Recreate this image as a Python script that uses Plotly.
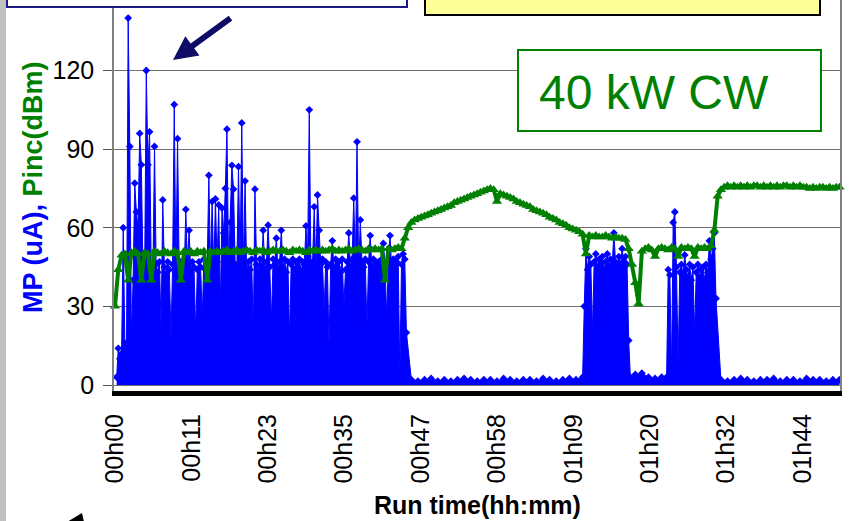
import plotly.graph_objects as go

# ---------------- data ----------------
tick_labels = ["00h00", "00h11", "00h23", "00h35", "00h47",
               "00h58", "01h09", "01h20", "01h32", "01h44"]
tick_minutes = [0, 11.6, 23.2, 34.8, 46.4, 58.0, 69.6, 81.2, 92.8, 104.4]
y_ticks = [0, 30, 60, 90, 120]

# Pinc (dBm), one sample every 0.5 min from 00h00
pinc_start, pinc_step = 0.0, 0.5
pinc_dbm = [
    30, 44, 49.5, 50, 40, 50.5, 51, 50, 40, 50.5,
    50, 40, 51, 50.5, 50, 51, 50.5, 50, 51, 50.5,
    40, 51, 50.5, 51, 50, 51, 50.5, 51, 40, 51,
    50.5, 51, 50.5, 51, 51.5, 50.5, 51, 51.5, 50.5, 51,
    51.5, 51, 50.5, 51.5, 51, 51.5, 50.5, 51, 51.5, 51,
    51, 51.5, 51, 50.5, 51.5, 51, 51.5, 51, 50.5, 51.5,
    51, 51.5, 51, 51.5, 51, 51.5, 52, 51, 51.5, 51,
    51.5, 52, 51, 51.5, 52, 51.5, 51, 52, 51.5, 52,
    51.5, 52, 40, 52, 51.5, 52, 52.5, 52, 56, 60,
    62, 63, 63.5, 64, 64.5, 65, 65.5, 66, 66.5, 67,
    67.5, 68, 68.5, 69.5, 70, 70.5, 71, 71.5, 72, 72.5,
    73, 73.5, 74, 74.5, 75, 74.5, 70, 73, 72.5, 72,
    71.5, 71, 70, 69.5, 69, 68.5, 68, 67, 66.5, 66,
    65.5, 65, 64, 63.5, 63, 62, 61.5, 61, 60, 59.5,
    59, 58.5, 57.5, 50, 57, 56.5, 57, 56.5, 56.5, 57,
    56.5, 56, 56.5, 56, 56, 55.5, 52, 46, 39, 31,
    51, 52, 52.5, 51.5, 49, 52, 52.5, 52, 51.5, 52.5,
    52, 49, 52.5, 52, 52.5, 52, 49, 52.5, 52, 52.5,
    52, 53, 59, 72, 74.5, 75.5, 76, 75.5, 76, 75.5,
    76, 75.5, 76, 75.5, 76, 76, 75.5, 76, 75.5, 76,
    75.5, 76, 75.5, 76, 76, 75.5, 76, 75.5, 76, 75.5,
    75.5, 75, 75.5, 75, 75.5, 75.5, 75, 75.5, 75, 75.5,
    75.5,
]

# MP (uA): logged in bursts (fast sampling) and quiet periods (slow sampling)
mp_burst1_start, mp_burst1_step = 0.25, 0.25
mp_burst1 = [
    3, 14, 10, 12, 60, 16, 13, 140, 91, 18,
    40, 77, 66, 60, 96, 84, 44, 42, 120, 84,
    96.6, 45, 40, 91, 46, 43, 47, 22, 70.6, 45,
    42, 47, 44, 18, 46, 107, 45, 94, 43, 47,
    44, 41, 67, 46, 59, 43, 47, 45, 20, 44,
    47, 45, 26, 48, 44, 46, 80, 45, 70, 43,
    71, 47, 68.7, 30, 67.5, 58, 75, 97.6, 45, 62,
    83.8, 74.7, 46, 44, 83.3, 47, 100, 45, 77.8, 43,
    47, 44, 48, 20, 74.7, 46, 43, 48, 45, 59,
    44, 47, 61, 45, 24, 48, 46, 56, 44, 47,
    59, 45, 48, 43, 47, 18, 46, 48, 44, 47,
    45, 48, 43, 47, 46, 60.7, 49, 105, 45, 47,
    68, 44, 72.5, 59, 46, 48, 28, 47, 45, 15,
    46, 55, 44, 48, 45, 47, 43, 48, 30, 44,
    47, 58, 45, 48, 71.3, 46, 92.8, 44, 63, 47,
    45, 48, 22, 47, 57, 45, 48, 46, 44, 47,
    45, 48, 54, 46, 26, 47, 57, 45, 48, 46,
    47, 49, 3, 46, 50, 48, 20,
]
mp_quiet1_start, mp_quiet1_step = 45.0, 1.0
mp_quiet1 = [2, 1.5, 2, 2.5, 1.5, 2, 1.5, 2, 2.5, 2, 1.5, 2, 2,
             1.5, 2.5, 2, 1.5, 2, 2, 1.5, 2.5, 2, 1.5, 2, 2.5, 2]
mp_burst2_start, mp_burst2_step = 71.0, 0.25
mp_burst2 = [3, 30, 52, 44, 49, 46, 20, 47, 50, 45, 48, 46, 49, 44, 47,
             50, 45, 48, 46, 58, 47, 45, 49, 46, 52, 47, 49, 46, 17, 3]
mp_quiet2_start, mp_quiet2_step = 79.0, 1.0
mp_quiet2 = [4, 4.5, 3, 2.5, 3]
mp_burst3_start, mp_burst3_step = 83.75, 0.25
mp_burst3 = [3, 44, 42, 5, 62, 66, 45, 8, 43, 46, 42, 49.6, 44, 41, 46, 40,
             45, 20, 43, 46, 41, 44, 45, 40, 46, 43, 55, 48, 52, 58, 33]
mp_quiet3_start, mp_quiet3_step = 92.0, 1.0
mp_quiet3 = [2, 1.5, 2, 2.5, 2, 1.5, 2, 2, 2.5, 1.5, 2, 2, 1.5, 2.5,
             2, 2, 1.5, 2, 2]

# ---------------- build series ----------------
def times(start, step, vals):
    return [start + step * i for i in range(len(vals))]

mp_segments = [
    (mp_burst1_start, mp_burst1_step, mp_burst1),
    (mp_quiet1_start, mp_quiet1_step, mp_quiet1),
    (mp_burst2_start, mp_burst2_step, mp_burst2),
    (mp_quiet2_start, mp_quiet2_step, mp_quiet2),
    (mp_burst3_start, mp_burst3_step, mp_burst3),
    (mp_quiet3_start, mp_quiet3_step, mp_quiet3),
]
mp_t, mp_v = [], []
for s, d, v in mp_segments:
    mp_t += times(s, d, v)
    mp_v += v

pinc_t = times(pinc_start, pinc_step, pinc_dbm)

BLUE = "#0000ff"
GREEN = "#008000"
FONT = "Liberation Sans, Arial, sans-serif"

fig = go.Figure()
fig.add_trace(go.Scatter(
    x=mp_t, y=mp_v, mode="lines+markers", name="MP (uA)",
    line=dict(color=BLUE, width=1),
    marker=dict(symbol="diamond", size=6, color=BLUE),
    fill="tozeroy", fillcolor=BLUE, showlegend=False,
))
fig.add_trace(go.Scatter(
    x=pinc_t, y=pinc_dbm, mode="lines+markers", name="Pinc(dBm)",
    line=dict(color=GREEN, width=4),
    marker=dict(symbol="triangle-up", size=9, color=GREEN),
    showlegend=False, cliponaxis=False,
))

W, H = 850, 521
L, R, T, B = 114, 10, 0, 130
pw, ph = W - L - R, H - T - B

def px(x):
    return (x - L) / pw

def py(y):
    return (H - B - y) / ph

shapes = [
    dict(type="rect", xref="paper", yref="paper", x0=px(0), x1=px(6),
         y0=py(H), y1=py(0), fillcolor="#c0c0c0", line=dict(width=0), layer="above"),
    dict(type="rect", xref="paper", yref="paper", x0=px(7), x1=px(407),
         y0=py(7), y1=py(-20), fillcolor="white", line=dict(color="#1a1a80", width=2), layer="above"),
    dict(type="rect", xref="paper", yref="paper", x0=px(425), x1=px(820),
         y0=py(15), y1=py(-20), fillcolor="#ffff99", line=dict(color="black", width=2), layer="above"),
    dict(type="rect", xref="paper", yref="paper", x0=px(518), x1=px(821),
         y0=py(131), y1=py(50), fillcolor="white", line=dict(color=GREEN, width=2), layer="above"),
    # black arrow head cut by the bottom edge
    dict(type="path", xref="paper", yref="paper",
         path="M {:.4f},{:.4f} L {:.4f},{:.4f} L {:.4f},{:.4f} Z".format(
             px(82), py(513), px(67), py(522), px(84), py(522)),
         fillcolor="black", line=dict(width=0), layer="above"),
]

annotations = [
    dict(xref="paper", yref="paper", x=px(654), y=py(92), text="40 kW CW",
         showarrow=False, font=dict(family=FONT, size=48, color=GREEN),
         xanchor="center", yanchor="middle"),
    dict(xref="paper", yref="paper", x=px(33), y=py(187), textangle=-90,
         text="<b><span style='color:#0000ff'>MP (uA), </span>"
              "<span style='color:#008000'>Pinc(dBm)</span></b>",
         showarrow=False, font=dict(family=FONT, size=27),
         xanchor="center", yanchor="middle"),
    dict(xref="paper", yref="paper", x=0.5, y=py(505),
         text="<b>Run time(hh:mm)</b>", showarrow=False,
         font=dict(family=FONT, size=25, color="black"),
         xanchor="center", yanchor="middle"),
    dict(xref="paper", yref="paper", x=px(173), y=py(60), text="",
         showarrow=True, ax=59, ay=-43, arrowhead=2, arrowsize=0.8,
         arrowwidth=6, arrowcolor="#0d0d66"),
]

fig.update_layout(
    width=W, height=H,
    margin=dict(l=L, r=R, t=T, b=B, autoexpand=False),
    paper_bgcolor="white", plot_bgcolor="white",
    font=dict(family=FONT, color="black"),
    shapes=shapes, annotations=annotations,
    xaxis=dict(
        range=[-0.15, 110.08], tickvals=tick_minutes, ticktext=tick_labels,
        tickangle=-90, tickfont=dict(family=FONT, size=25, color="black"),
        showgrid=False, zeroline=False, showline=True, linecolor="black",
        linewidth=5, ticks="", automargin=False, ticklabelstandoff=8,
    ),
    yaxis=dict(
        range=[-2.29, 146.9], tickvals=y_ticks,
        tickfont=dict(family=FONT, size=25, color="black"),
        showgrid=True, gridcolor="#6e6e6e", gridwidth=1.3,
        zeroline=False, showline=True, linecolor="#808080", linewidth=1.5,
        mirror=True, ticks="outside", ticklen=9, tickcolor="#555555",
        tickwidth=1.3, automargin=False, ticklabelstandoff=4,
    ),
)

fig.write_html("out.html", config={"displayModeBar": False},
               post_script="document.body.style.margin='0';")
